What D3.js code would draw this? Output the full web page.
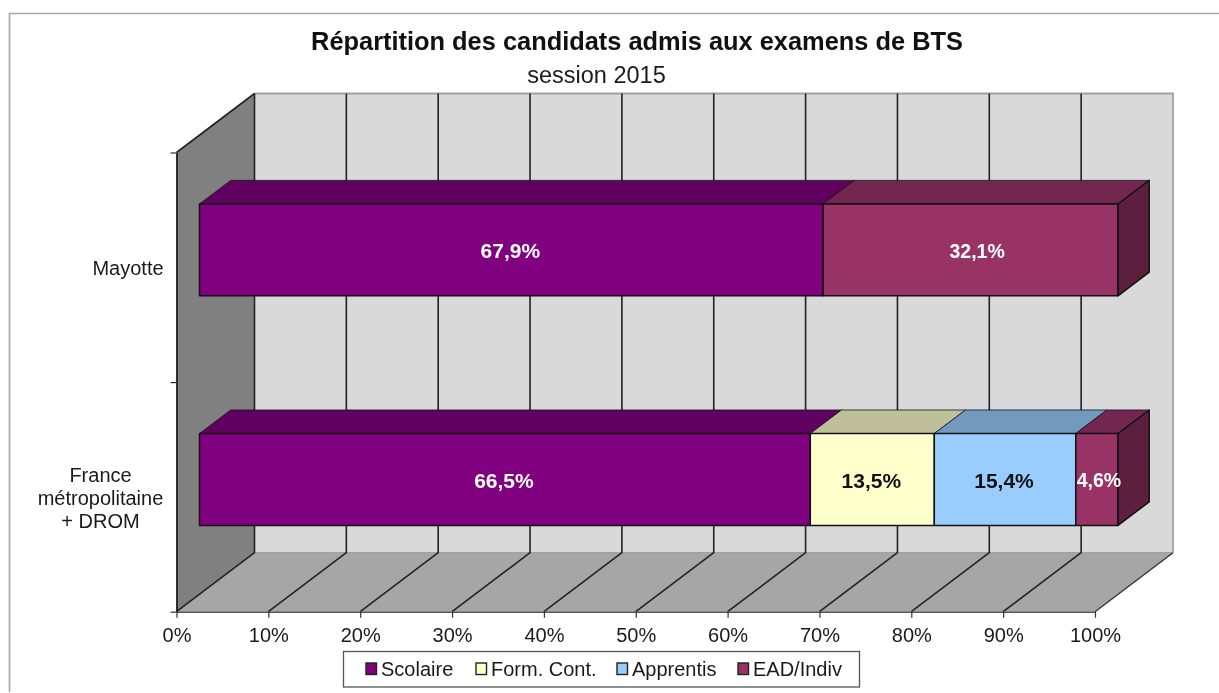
<!DOCTYPE html>
<html>
<head>
<meta charset="utf-8">
<script src="https://cdn.jsdelivr.net/npm/d3@7"></script>
<style>
  html, body { margin: 0; padding: 0; background: #fff; }
  svg { display: block; filter: blur(0.4px); }
  text { font-family: "Liberation Sans", Arial, sans-serif; fill: #1a1a1a; }
</style>
</head>
<body>
<div id="app"></div>
<script>
const categories = ['Mayotte', 'France métropolitaine + DROM']
const categoryLines = [['Mayotte'], ['France', 'métropolitaine', '+ DROM']]
const seriesNames = ['Scolaire', 'Form. Cont.', 'Apprentis', 'EAD/Indiv']
const scolaire = [67.9, 66.5]
const formCont = [0, 13.5]
const apprentis = [0, 15.4]
const eadIndiv = [32.1, 4.6]
const xTicks = [0, 10, 20, 30, 40, 50, 60, 70, 80, 90, 100]

const frontColors = ['#800080', '#ffffcc', '#99ccff', '#993366']
const topColors = ['#600060', '#bfbf99', '#7399bf', '#732650']
const sideColors = ['#400040', '#808066', '#4d6680', '#5c1f3d']
const labelColors = ['#fff', '#111', '#111', '#fff']
const labelSizes = [21, 21, 21, 19.5]

const rows = categories.map((c, i) => ({
  category: c, 'Scolaire': scolaire[i], 'Form. Cont.': formCont[i], 'Apprentis': apprentis[i], 'EAD/Indiv': eadIndiv[i]
}))
const stacked = d3.stack().keys(seriesNames)(rows)

const svg = d3.select('#app').append('svg').attr('width', 1219).attr('height', 693)

// outer frame, only top and left show up in the picture
svg.append('path').attr('d', 'M9.5,692V13.5H1219').attr('fill', 'none').attr('stroke', '#a8a8a8').attr('stroke-width', 1.6)

svg.append('text').attr('x', 637).attr('y', 49.5).attr('text-anchor', 'middle')
  .style('font-size', '25.4px').style('font-weight', 'bold').style('fill', '#111')
  .text('Répartition des candidats admis aux examens de BTS')
svg.append('text').attr('x', 596.5).attr('y', 83).attr('text-anchor', 'middle')
  .style('font-size', '23.5px').text('session 2015')

// scales on the front plane + a depth scale for the fake 3d
const x = d3.scaleLinear().domain([0, 100]).range([176.5, 1095])
const yAxis = d3.scaleLinear().domain([0, 1]).range([611.7, 152.5])
const y = d3.scaleBand().domain(categories.slice().reverse()).range([611.7, 152.5]).paddingInner(0.6).paddingOuter(0.3)
const depthX = d3.scaleLinear().domain([0, 1]).range([0, 78])
const depthY = d3.scaleLinear().domain([0, 1]).range([0, -59])

// point in chart space: pct along x, py = pixel y on the front plane, d = depth 0..1
const pt = (pct, py, d) => [x(pct) + depthX(d), py + depthY(d)]
const poly = pts => 'M' + pts.map(p => p.join(',')).join('L') + 'Z'

const fy0 = yAxis(0), fy1 = yAxis(1)

// walls
const walls = svg.append('g')
walls.append('path').attr('fill', '#d9d9d9')
  .attr('d', poly([pt(0, fy1, 1), pt(100, fy1, 1), pt(100, fy0, 1), pt(0, fy0, 1)]))
walls.append('path').attr('fill', '#808080')
  .attr('d', poly([pt(0, fy1, 0), pt(0, fy1, 1), pt(0, fy0, 1), pt(0, fy0, 0)]))
walls.append('path').attr('fill', '#a6a6a6')
  .attr('d', poly([pt(0, fy0, 0), pt(0, fy0, 1), pt(100, fy0, 1), pt(100, fy0, 0)]))

// wall edges
const line = d3.line()
walls.append('path').attr('fill', 'none').attr('stroke', '#a0a0a0').attr('stroke-width', 1.8)
  .attr('d', line([pt(0, fy1, 1), pt(100, fy1, 1), pt(100, fy0, 1)]))
walls.append('path').attr('fill', 'none').attr('stroke', '#a0a0a0').attr('stroke-width', 1.2)
  .attr('d', line([pt(0, fy0, 1), pt(100, fy0, 1)]))
walls.append('path').attr('fill', 'none').attr('stroke', '#333').attr('stroke-width', 1.4)
  .attr('d', line([pt(100, fy0, 1), pt(100, fy0, 0)]))
walls.append('path').attr('fill', 'none').attr('stroke', '#222').attr('stroke-width', 1.6)
  .attr('d', line([pt(0, fy1, 0), pt(0, fy1, 1)]))

// gridlines
const grid = svg.append('g').attr('fill', 'none').attr('stroke', '#222').attr('stroke-width', 1.6)
xTicks.slice(0, -1).forEach(t => {
  grid.append('path').attr('d', line([pt(t, fy0, 0), pt(t, fy0, 1), pt(t, fy1, 1)]))
})

// bars start 0.295 into the depth and are 0.4 deep
const d0 = 0.295, d1 = 0.695
const bars = svg.append('g').attr('stroke', '#111').attr('stroke-width', 1.5).attr('stroke-linejoin', 'round')

stacked.forEach((s, si) => {
  s.forEach(v => {
    if (v[1] - v[0] <= 0) return
    const cat = v.data.category
    const t = y(cat), b = y(cat) + y.bandwidth()
    bars.append('path').attr('fill', topColors[si])
      .attr('d', poly([pt(v[0], t, d0), pt(v[0], t, d1), pt(v[1], t, d1), pt(v[1], t, d0)]))
      .attr('stroke-width', 0.8)
    bars.append('path').attr('fill', frontColors[si])
      .attr('d', poly([pt(v[0], t, d0), pt(v[1], t, d0), pt(v[1], b, d0), pt(v[0], b, d0)]))
    if (si === seriesNames.length - 1) {
      bars.append('path').attr('fill', sideColors[si])
        .attr('d', poly([pt(v[1], t, d0), pt(v[1], t, d1), pt(v[1], b, d1), pt(v[1], b, d0)]))
    }
  })
})

// value labels, the last series sits a bit right of centre in the original
const eadNudge = [6.5, 2]
const labels = svg.append('g').attr('text-anchor', 'middle').style('font-weight', 'bold')
stacked.forEach((s, si) => {
  s.forEach((v, ci) => {
    if (v[1] - v[0] <= 0) return
    const cat = v.data.category
    const p = pt((v[0] + v[1]) / 2, y(cat) + y.bandwidth() / 2, d0)
    labels.append('text').attr('x', p[0] + (si === 3 ? eadNudge[ci] : -1)).attr('y', p[1] + 2.5)
      .attr('dominant-baseline', 'middle')
      .style('font-size', labelSizes[si] + 'px').style('fill', labelColors[si])
      .text((v[1] - v[0]).toFixed(1).replace('.', ',') + '%')
  })
})

// x axis
const axisX = svg.append('g').attr('transform', `translate(0,${fy0})`)
  .call(d3.axisBottom(x).tickValues(xTicks).tickSize(6).tickSizeOuter(0).tickPadding(10.5).tickFormat(d => d + '%'))
axisX.select('.domain').attr('stroke', '#555').attr('stroke-width', 1.4)
axisX.selectAll('.tick line').attr('stroke', '#333').attr('stroke-width', 1.2)
axisX.selectAll('.tick text').style('font-size', '20px').style('font-family', '"Liberation Sans", Arial, sans-serif').attr('fill', '#1a1a1a')

// y axis, ticks on the band edges
const axisY = svg.append('g').attr('transform', `translate(${x(0)},0)`)
  .call(d3.axisLeft(yAxis).tickValues([0, 0.5, 1]).tickSize(6).tickSizeOuter(0).tickFormat(''))
axisY.select('.domain').attr('stroke', '#222').attr('stroke-width', 1.8)
axisY.selectAll('.tick line').attr('stroke', '#333').attr('stroke-width', 1.2)

categories.forEach((c, i) => {
  const lines = categoryLines[i]
  const cy = y(c) + y.bandwidth() / 2
  const t = svg.append('text').attr('text-anchor', 'middle').style('font-size', '20px')
  lines.forEach((l, j) => {
    t.append('tspan').attr('x', lines.length > 1 ? 100.5 : 128)
      .attr('y', cy + 8 + (j - (lines.length - 1) / 2) * 23)
      .text(l)
  })
})

// legend
const legend = svg.append('g')
legend.append('rect').attr('x', 343.5).attr('y', 651.5).attr('width', 516).attr('height', 35.5)
  .attr('fill', '#fff').attr('stroke', '#555').attr('stroke-width', 1.3)
const legendX = [366, 476, 617, 738]
seriesNames.forEach((n, i) => {
  legend.append('rect').attr('x', legendX[i]).attr('y', 663).attr('width', 10.5).attr('height', 11.5)
    .attr('fill', frontColors[i]).attr('stroke', '#222').attr('stroke-width', 1.4)
  legend.append('text').attr('x', legendX[i] + 15).attr('y', 676).style('font-size', '20px').text(n)
})
</script>
</body>
</html>
